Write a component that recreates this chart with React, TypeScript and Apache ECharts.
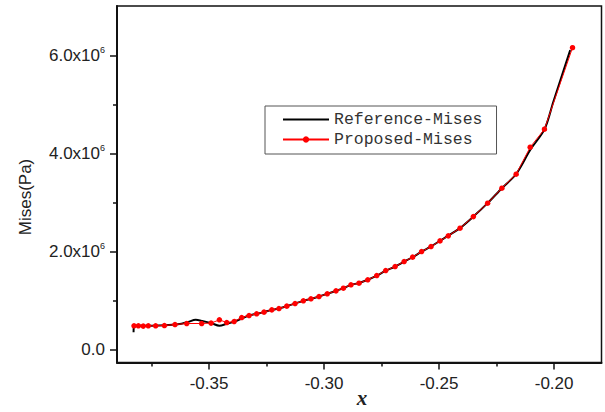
import React, { useEffect, useRef } from "react";
import * as echarts from "echarts";

// Proposed-Mises (red points)
const proposedX = [
  -0.3826, -0.3807, -0.3786, -0.3764, -0.3732, -0.3694, -0.3648, -0.3597, -0.3532, -0.3491,
  -0.3455, -0.3423, -0.3391, -0.3358, -0.3326, -0.3293, -0.3261, -0.3227, -0.3196, -0.3162,
  -0.3126, -0.309, -0.3057, -0.3022, -0.2986, -0.2948, -0.2916, -0.2883, -0.2848, -0.281,
  -0.2771, -0.2732, -0.2691, -0.2652, -0.2615, -0.2576, -0.2535, -0.2496, -0.246, -0.2409,
  -0.2351, -0.2289, -0.2227, -0.2165, -0.2104, -0.2042, -0.192,
];
const proposedY = [
  0.49, 0.49, 0.484, 0.49, 0.49, 0.496, 0.516, 0.537, 0.537, 0.545,
  0.612, 0.557, 0.578, 0.659, 0.7, 0.735, 0.769, 0.816, 0.843, 0.892,
  0.945, 1.0, 1.041, 1.088, 1.143, 1.204, 1.259, 1.327, 1.361, 1.429,
  1.516, 1.618, 1.7, 1.802, 1.892, 2.006, 2.108, 2.224, 2.327, 2.484,
  2.72, 2.994, 3.3, 3.586, 4.137, 4.504, 6.169,
];

// Reference-Mises (black line)
const referenceX = [
  -0.3828, -0.3826, -0.378, -0.372, -0.366, -0.362, -0.359, -0.3558, -0.353, -0.349,
  -0.3455, -0.3423, -0.339, -0.3358, -0.3326, -0.3293, -0.3261, -0.3227, -0.3196, -0.3162,
  -0.3126, -0.309, -0.3057, -0.3022, -0.2986, -0.2948, -0.2916, -0.2883, -0.2848, -0.281,
  -0.2771, -0.2732, -0.2691, -0.2652, -0.2615, -0.2576, -0.2535, -0.2496, -0.246, -0.2409,
  -0.2351, -0.2289, -0.2227, -0.2165, -0.2104, -0.2042, -0.2003, -0.193,
];
const referenceY = [
  0.36, 0.49, 0.49, 0.495, 0.51, 0.53, 0.57, 0.612, 0.59, 0.545,
  0.49, 0.53, 0.575, 0.64, 0.7, 0.735, 0.77, 0.815, 0.845, 0.89,
  0.945, 1.0, 1.04, 1.09, 1.145, 1.205, 1.26, 1.325, 1.365, 1.43,
  1.515, 1.615, 1.7, 1.8, 1.89, 2.005, 2.11, 2.225, 2.33, 2.485,
  2.72, 2.995, 3.3, 3.59, 4.08, 4.5, 5.07, 6.12,
];

const xMajorTicks = [-0.35, -0.3, -0.25, -0.2];
const xMinorTicks = [-0.375, -0.325, -0.275, -0.225];
const yMajorTicks = [0, 2e6, 4e6, 6e6];
const yMinorTicks = [1e6, 3e6, 5e6];

const seriesNames = ["Reference-Mises", "Proposed-Mises"];
const xTitle = "x";
const yTitle = "Mises(Pa)";

const FONT = "'Liberation Sans', Arial, sans-serif";

export default function App() {
  const ref = useRef<HTMLDivElement>(null);
  useEffect(() => {
    if (!ref.current) return;
    const chart = echarts.init(ref.current, undefined, { renderer: "svg" });
    const xMin = -0.39;
    const xMax = -0.1794;
    const yMin = -0.259e6;
    const yMax = 7.02e6;
    const refData = referenceX.map((x, i) => [x, referenceY[i] * 1e6]);
    const propData = proposedX.map((x, i) => [x, proposedY[i] * 1e6]);
    chart.setOption({
      animation: false,
      backgroundColor: "#fff",
      grid: {
        left: 117,
        right: 3.5,
        top: 6,
        bottom: 49.5,
        show: true,
        borderColor: "#111",
        borderWidth: 1.5,
        backgroundColor: "transparent",
        containLabel: false,
        outerBoundsMode: "none",
      },
      legend: {
        orient: "vertical",
        left: 265,
        top: 106,
        padding: [5, 14, 6, 17],
        itemGap: 3,
        itemWidth: 46,
        itemHeight: 8,
        borderColor: "#555",
        borderWidth: 1,
        backgroundColor: "#fff",
        data: [
          { name: seriesNames[0], icon: "path://M0,0H46V2H0Z" },
          { name: seriesNames[1] },
        ],
        textStyle: {
          fontFamily: "'Liberation Mono', 'DejaVu Sans Mono', monospace",
          fontSize: 16.5,
          color: "#333",
          lineHeight: 17,
        },
      },
      xAxis: [
        {
          type: "value",
          min: xMin,
          max: xMax,
          position: "bottom",
          splitLine: { show: false },
          axisLine: { show: true, onZero: false, lineStyle: { color: "#111", width: 2 } },
          axisTick: {
            show: true,
            inside: false,
            length: 7,
            customValues: xMajorTicks,
            lineStyle: { color: "#111", width: 1.5 },
          },
          axisLabel: {
            customValues: xMajorTicks,
            margin: 12,
            fontFamily: FONT,
            fontSize: 17,
            color: "#222",
            formatter: (v: number) => v.toFixed(2),
          },
        },
        {
          type: "value",
          min: xMin,
          max: xMax,
          position: "bottom",
          splitLine: { show: false },
          axisLine: { show: false, onZero: false },
          axisTick: {
            show: true,
            inside: false,
            length: 4,
            customValues: xMinorTicks,
            lineStyle: { color: "#111", width: 1.5 },
          },
          axisLabel: { show: false },
        },
      ],
      yAxis: [
        {
          type: "value",
          min: yMin,
          max: yMax,
          position: "left",
          splitLine: { show: false },
          axisLine: { show: true, onZero: false, lineStyle: { color: "#111", width: 2 } },
          axisTick: {
            show: true,
            inside: false,
            length: 7,
            customValues: yMajorTicks,
            lineStyle: { color: "#111", width: 1.5 },
          },
          axisLabel: {
            customValues: yMajorTicks,
            margin: 12,
            fontFamily: FONT,
            fontSize: 17,
            color: "#222",
            formatter: (v: number) =>
              v === 0 ? "{b|0.0}" : `{b|${(v / 1e6).toFixed(1)}x10}{s|6}`,
            rich: {
              b: { fontFamily: FONT, fontSize: 17, color: "#222" },
              s: { fontFamily: FONT, fontSize: 9, color: "#222", padding: [0, 0, 11, 0] },
            },
          },
        },
        {
          type: "value",
          min: yMin,
          max: yMax,
          position: "left",
          splitLine: { show: false },
          axisLine: { show: false, onZero: false },
          axisTick: {
            show: true,
            inside: false,
            length: 4,
            customValues: yMinorTicks,
            lineStyle: { color: "#111", width: 1.5 },
          },
          axisLabel: { show: false },
        },
      ],
      graphic: [
        {
          type: "text",
          x: 25,
          y: 197,
          rotation: Math.PI / 2,
          style: {
            text: yTitle,
            fontFamily: FONT,
            fontSize: 17,
            fill: "#222",
            align: "center",
            verticalAlign: "middle",
          },
        },
        {
          type: "text",
          x: 362,
          y: 398,
          style: {
            text: xTitle,
            fontFamily: "'Liberation Serif', 'Times New Roman', serif",
            fontStyle: "italic",
            fontWeight: "bold",
            fontSize: 21,
            fill: "#222",
            align: "center",
            verticalAlign: "middle",
          },
        },
      ],
      series: [
        {
          name: seriesNames[0],
          type: "line",
          data: refData,
          symbol: "none",
          smooth: 0.3,
          lineStyle: { color: "#000", width: 2 },
          itemStyle: { color: "#000" },
          z: 2,
        },
        {
          name: seriesNames[1],
          type: "line",
          data: propData,
          symbol: "circle",
          symbolSize: 5.5,
          lineStyle: { color: "#ff0000", width: 1 },
          itemStyle: { color: "#ff0000" },
          z: 3,
        },
      ],
    });
    return () => chart.dispose();
  }, []);
  return (
    <div
      ref={ref}
      style={{ position: "fixed", left: 0, top: 0, width: 605, height: 412 }}
    />
  );
}
